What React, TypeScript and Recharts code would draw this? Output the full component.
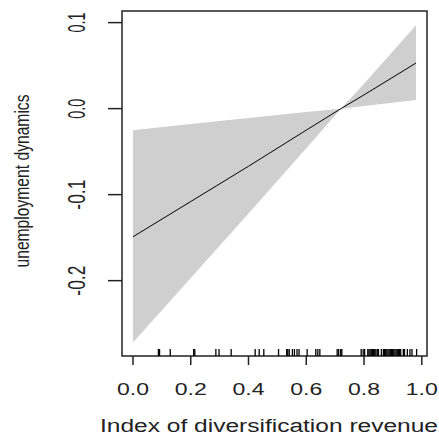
import { Area, ComposedChart, Line, ReferenceArea, Scatter, XAxis, YAxis } from "recharts";

// fitted curve and confidence band
const xs = [0, 0.2, 0.4, 0.6, 0.72, 0.8, 0.98];
const fit = [-0.149, -0.108, -0.067, -0.025, 0.0, 0.016, 0.053];
const bandA = [-0.025, -0.018, -0.011, -0.004, 0.0, 0.003, 0.01];
const bandB = [-0.272, -0.197, -0.122, -0.046, 0.0, 0.029, 0.097];

// rug marks along the x axis
const rugX = [
  0.088, 0.092, 0.129, 0.21, 0.214, 0.287, 0.298, 0.34, 0.423, 0.437, 0.453,
  0.504, 0.532, 0.536, 0.541, 0.552, 0.559, 0.568, 0.575, 0.603, 0.633, 0.64,
  0.647, 0.707, 0.712, 0.719, 0.723, 0.79, 0.797, 0.802, 0.813, 0.817, 0.821,
  0.825, 0.829, 0.833, 0.837, 0.841, 0.846, 0.85, 0.86, 0.867, 0.871, 0.875,
  0.879, 0.883, 0.887, 0.891, 0.895, 0.899, 0.903, 0.907, 0.911, 0.915, 0.919,
  0.923, 0.927, 0.936, 0.94, 0.95, 0.959, 0.966, 0.982,
];

const xTicks = [0, 0.2, 0.4, 0.6, 0.8, 1.0];
const yTicks = [-0.2, -0.1, 0, 0.1];
const xDomain: [number, number] = [-0.038, 1.018];
const yDomain: [number, number] = [-0.2876, 0.1135];

const FONT = "'Liberation Sans', Arial, sans-serif";
const INK = "#222";

const rows = xs.map((x, i) => ({ x, fit: fit[i], band: [bandA[i], bandB[i]] }));
const rug = rugX.map((x) => ({ x, y: yDomain[0] }));

function XTick(props: any) {
  const { x, y, payload } = props;
  return (
    <text
      x={x}
      y={y + 28}
      textAnchor="middle"
      fontFamily={FONT}
      fontSize={16}
      fill={INK}
      textLength={32}
      lengthAdjust="spacingAndGlyphs"
    >
      {payload.value.toFixed(1)}
    </text>
  );
}

function YTick(props: any) {
  const { x, y, payload } = props;
  const label = payload.value.toFixed(1);
  const bx = x - 21;
  return (
    <text
      x={bx}
      y={y}
      transform={`rotate(-90 ${bx} ${y})`}
      textAnchor="middle"
      fontFamily={FONT}
      fontSize={23}
      fill={INK}
      textLength={label.length > 3 ? 30 : 20}
      lengthAdjust="spacingAndGlyphs"
    >
      {label}
    </text>
  );
}

function RugMark(props: any) {
  const { cx, cy } = props;
  return <line x1={cx} x2={cx} y1={cy} y2={cy - 7} stroke="#000" strokeWidth={1.3} />;
}

export default function App() {
  return (
    <div style={{ position: "absolute", left: 0, top: 0, width: 439, height: 436, background: "#fff" }}>
      <ComposedChart
        width={439}
        height={436}
        data={rows}
        margin={{ top: 11, right: 12, bottom: 0, left: 0 }}
      >
        <XAxis
          dataKey="x"
          type="number"
          domain={xDomain}
          ticks={xTicks}
          allowDataOverflow
          height={80}
          axisLine={false}
          tickSize={9}
          tickLine={{ stroke: INK, strokeWidth: 1.5 }}
          tick={<XTick />}
        />
        <YAxis
          type="number"
          domain={yDomain}
          ticks={yTicks}
          allowDataOverflow
          width={122}
          axisLine={false}
          tickSize={14}
          tickLine={{ stroke: INK, strokeWidth: 1.5 }}
          tick={<YTick />}
        />
        <Area
          dataKey="band"
          type="linear"
          stroke="none"
          fill="#cfcfcf"
          fillOpacity={1}
          isAnimationActive={false}
        />
        <Line
          dataKey="fit"
          type="linear"
          stroke="#000"
          strokeWidth={1}
          dot={false}
          isAnimationActive={false}
        />
        <Scatter data={rug} dataKey="y" shape={<RugMark />} isAnimationActive={false} />
        <ReferenceArea
          x1={xDomain[0]}
          x2={xDomain[1]}
          y1={yDomain[0]}
          y2={yDomain[1]}
          fill="none"
          stroke={INK}
          strokeWidth={1.5}
          ifOverflow="visible"
        />
        <text
          x={269}
          y={432}
          textAnchor="middle"
          fontFamily={FONT}
          fontSize={18}
          fill={INK}
          textLength={338}
          lengthAdjust="spacingAndGlyphs"
        >
          Index of diversification revenue
        </text>
        <text
          x={29}
          y={181}
          transform="rotate(-90 29 181)"
          textAnchor="middle"
          fontFamily={FONT}
          fontSize={21}
          fill={INK}
          textLength={173}
          lengthAdjust="spacingAndGlyphs"
        >
          unemployment dynamics
        </text>
      </ComposedChart>
    </div>
  );
}
